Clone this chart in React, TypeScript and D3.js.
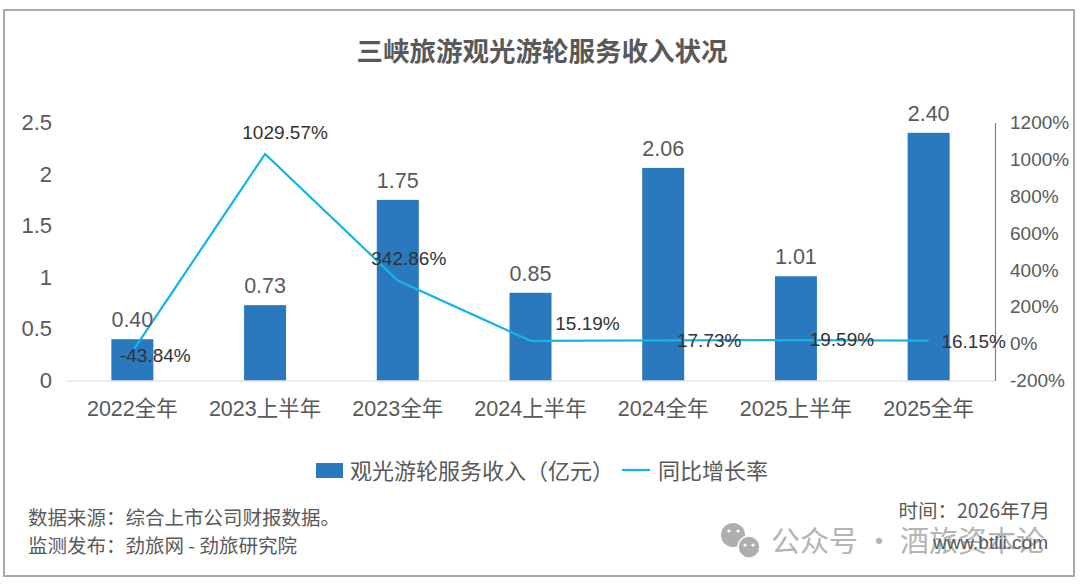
import { useEffect, useRef } from "react";
import * as d3 from "d3";

const categories = ["2022全年", "2023上半年", "2023全年", "2024上半年", "2024全年", "2025上半年", "2025全年"];
const revenue = [0.40, 0.73, 1.75, 0.85, 2.06, 1.01, 2.40];
const revenueLabels = ["0.40", "0.73", "1.75", "0.85", "2.06", "1.01", "2.40"];
const growth = [-43.84, 1029.57, 342.86, 15.19, 17.73, 19.59, 16.15];
const growthLabels = ["-43.84%", "1029.57%", "342.86%", "15.19%", "17.73%", "19.59%", "16.15%"];
const leftTicks = [0, 0.5, 1, 1.5, 2, 2.5];
const rightTicks = [-200, 0, 200, 400, 600, 800, 1000, 1200];

const FONT = "'Liberation Sans', 'Noto Sans CJK SC', sans-serif";
const CJK = "'Noto Sans CJK SC', sans-serif";

export default function App() {
    const svgRef = useRef<SVGSVGElement | null>(null);

    useEffect(() => {
        const svg = d3.select(svgRef.current);
        svg.selectAll("*").remove();

        const left = 66, right = 995, top = 122.5, bottom = 380.5;

        const x = d3.scaleBand().domain(categories).range([left, right]);
        const yLeft = d3.scaleLinear().domain([0, 2.5]).range([bottom, top]);
        const yRight = d3.scaleLinear().domain([-200, 1200]).range([bottom, top]);
        const cx = (c: string) => x(c)! + x.bandwidth() / 2;
        const barW = 42;

        // frame
        svg.append("rect")
            .attr("x", 4).attr("y", 10).attr("width", 1070).attr("height", 566)
            .attr("fill", "#ffffff").attr("stroke", "#a9a9a9").attr("stroke-width", 2);

        svg.append("text")
            .attr("x", 542).attr("y", 61)
            .attr("text-anchor", "middle")
            .attr("font-family", CJK).attr("font-size", 26.5).attr("font-weight", 700)
            .attr("fill", "#595959")
            .text("三峡旅游观光游轮服务收入状况");

        // bars
        svg.selectAll("rect.bar")
            .data(revenue)
            .join("rect")
            .attr("class", "bar")
            .attr("x", (_, i) => cx(categories[i]) - barW / 2)
            .attr("y", d => yLeft(d))
            .attr("width", barW)
            .attr("height", d => bottom - yLeft(d))
            .attr("fill", "#2a78bd");

        // axes
        const bottomAxis = svg.append("g")
            .attr("transform", `translate(0,${bottom})`)
            .call(d3.axisBottom(x).tickSize(0).tickPadding(20));
        bottomAxis.select(".domain").attr("stroke", "#d9d9d9");
        bottomAxis.selectAll("text")
            .attr("font-family", FONT).attr("font-size", 21.5).attr("fill", "#595959");

        const leftAxis = svg.append("g")
            .attr("transform", `translate(52,0)`)
            .call(d3.axisLeft(yLeft).tickValues(leftTicks).tickFormat(d => String(d)).tickSize(0).tickPadding(0));
        leftAxis.select(".domain").remove();
        leftAxis.selectAll("text")
            .attr("font-family", FONT).attr("font-size", 22).attr("fill", "#595959");

        const rightAxis = svg.append("g")
            .attr("transform", `translate(${right},0)`)
            .call(d3.axisRight(yRight).tickValues(rightTicks).tickFormat(d => `${d}%`).tickSize(0).tickPadding(15));
        rightAxis.select(".domain").attr("stroke", "#808080").attr("stroke-width", 1.2);
        rightAxis.selectAll("text")
            .attr("font-family", FONT).attr("font-size", 19).attr("fill", "#595959");

        // growth line
        const line = d3.line<number>()
            .x((_, i) => cx(categories[i]))
            .y(d => yRight(d));
        svg.append("path")
            .attr("d", line(growth))
            .attr("fill", "none")
            .attr("stroke", "#14b4e8")
            .attr("stroke-width", 2.2);

        // bar value labels
        svg.selectAll("text.rev")
            .data(revenueLabels)
            .join("text")
            .attr("class", "rev")
            .attr("x", (_, i) => cx(categories[i]))
            .attr("y", (_, i) => yLeft(revenue[i]) - 12)
            .attr("text-anchor", "middle")
            .attr("font-family", FONT).attr("font-size", 21.5).attr("fill", "#595959")
            .text(d => d);

        // growth labels sit off to the side of each point, nudged by hand
        const labelDx = [23, 20, 11, 57, 46, 46, 45];
        const labelDy = [10, -15, -15, -11, 7, 6, 7];
        svg.selectAll("text.growth")
            .data(growthLabels)
            .join("text")
            .attr("class", "growth")
            .attr("x", (_, i) => cx(categories[i]) + labelDx[i])
            .attr("y", (_, i) => yRight(growth[i]) + labelDy[i])
            .attr("text-anchor", "middle")
            .attr("font-family", FONT).attr("font-size", 19).attr("fill", "#333333")
            .text(d => d);

        // legend
        svg.append("rect")
            .attr("x", 316).attr("y", 463).attr("width", 27).attr("height", 15)
            .attr("fill", "#2a78bd");
        svg.append("text")
            .attr("x", 350).attr("y", 479)
            .attr("font-family", CJK).attr("font-size", 22).attr("fill", "#595959")
            .text("观光游轮服务收入（亿元）");
        svg.append("line")
            .attr("x1", 622).attr("x2", 650).attr("y1", 470).attr("y2", 470)
            .attr("stroke", "#14b4e8").attr("stroke-width", 2.2);
        svg.append("text")
            .attr("x", 658).attr("y", 479)
            .attr("font-family", CJK).attr("font-size", 22).attr("fill", "#595959")
            .text("同比增长率");

        // source notes
        const notes = [
            { x: 28, y: 525, anchor: "start", t: "数据来源：综合上市公司财报数据。" },
            { x: 28, y: 553, anchor: "start", t: "监测发布：劲旅网 - 劲旅研究院" },
            { x: 1050, y: 518, anchor: "end", t: "时间：2026年7月" },
        ];
        svg.selectAll("text.note")
            .data(notes)
            .join("text")
            .attr("class", "note")
            .attr("x", d => d.x).attr("y", d => d.y)
            .attr("text-anchor", d => d.anchor)
            .attr("font-family", CJK).attr("font-size", 19.5).attr("fill", "#595959")
            .text(d => d.t);

        // watermark
        const mark = svg.append("g").attr("fill", "#aeaeae");
        mark.append("circle").attr("cx", 733).attr("cy", 535).attr("r", 12);
        mark.append("circle").attr("cx", 749).attr("cy", 547).attr("r", 11).attr("stroke", "#ffffff").attr("stroke-width", 1.5);
        const eyes = [[729, 531], [738, 531], [745, 545], [753, 545]];
        svg.selectAll("circle.eye")
            .data(eyes)
            .join("circle")
            .attr("class", "eye")
            .attr("cx", d => d[0]).attr("cy", d => d[1]).attr("r", 1.6)
            .attr("fill", "#ffffff");
        svg.append("text")
            .attr("x", 771).attr("y", 552)
            .attr("font-family", CJK).attr("font-size", 29).attr("fill", "#b4b4b4")
            .text("公众号 · 酒旅资本论");
        svg.append("text")
            .attr("x", 1048).attr("y", 549)
            .attr("text-anchor", "end")
            .attr("font-family", FONT).attr("font-size", 19).attr("fill", "#595959")
            .text("www.btlii.com");
    }, []);

    return (
        <svg
            ref={svgRef}
            width={1080}
            height={584}
            style={{ position: "absolute", left: 0, top: 0, background: "#ffffff" }}
        />
    );
}
